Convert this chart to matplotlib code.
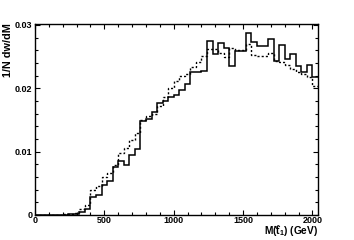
import numpy as np
import matplotlib
matplotlib.use("Agg")
import matplotlib.pyplot as plt
from matplotlib.ticker import MultipleLocator
from matplotlib.lines import Line2D

plt.rcParams['font.family'] = ['Liberation Sans', 'DejaVu Sans']
plt.rcParams['mathtext.fontset'] = 'custom'
plt.rcParams['mathtext.rm'] = 'Liberation Sans:bold'
plt.rcParams['mathtext.bf'] = 'Liberation Sans:bold'
plt.rcParams['mathtext.it'] = 'Liberation Sans:bold'

# bin edges: 40 GeV bins from 0 to 2040
bin_edges = list(range(0, 2041, 40))

solid_vals = [
    0, 0, 0, 0, 0, 0.0, 0.0002, 0.0002, 0.0005, 0.0009,   # 0-400
    0.0028, 0.0031, 0.0047, 0.0053, 0.0076, 0.0085, 0.0079, 0.0094, 0.0104, 0.0148,  # 400-800
    0.0152, 0.0163, 0.0177, 0.0180, 0.0186, 0.0190, 0.0197, 0.0207, 0.0225, 0.0226,  # 800-1200
    0.0227, 0.0274, 0.0254, 0.0272, 0.0263, 0.0235, 0.0259, 0.0259, 0.0288, 0.0273,  # 1200-1600
    0.0267, 0.0267, 0.0278, 0.0243, 0.0269, 0.0247, 0.0254, 0.0235, 0.0226, 0.0236,  # 1600-2000
    0.0218,                                                                            # 2000-2040
]

dotted_vals = [
    0, 0, 0, 0, 0, 0.0001, 0.0002, 0.0003, 0.0009, 0.0016,   # 0-400
    0.0039, 0.0045, 0.0060, 0.0066, 0.0079, 0.0098, 0.0105, 0.0118, 0.0130, 0.0150,  # 400-800
    0.0156, 0.0160, 0.0172, 0.0186, 0.0200, 0.0212, 0.0220, 0.0222, 0.0234, 0.0242,  # 800-1200
    0.0251, 0.0262, 0.0262, 0.0255, 0.0250, 0.0264, 0.0260, 0.0260, 0.0270, 0.0253,  # 1200-1600
    0.0251, 0.0251, 0.0255, 0.0243, 0.0241, 0.0237, 0.0230, 0.0226, 0.0222, 0.0218,  # 1600-2000
    0.0204,                                                                            # 2000-2040
]

x_ticks = [0, 500, 1000, 1500, 2000]
x_tick_labels = ["0", "500", "1000", "1500", "2000"]
y_ticks = [0, 0.01, 0.02, 0.03]
y_tick_labels = ["0", "0.01", "0.02", "0.03"]

W, H = 354, 240
fig = plt.figure(figsize=(W / 100, H / 100), dpi=100)
ax = fig.add_axes([35/W, 1 - 215/H, (318 - 35)/W, (215 - 24)/H])

ax.stairs(solid_vals, bin_edges, color='black', lw=1.1, baseline=None)
ax.stairs(dotted_vals, bin_edges, color='black', lw=1.0, linestyle=(0, (1.5, 1.5)), baseline=None)

ax.set_xlim(0, 2040)
ax.set_ylim(0, 0.03015)

ax.set_xticks(x_ticks)
ax.set_xticklabels(x_tick_labels)
ax.set_yticks(y_ticks)
ax.set_yticklabels(y_tick_labels)
ax.xaxis.set_minor_locator(MultipleLocator(100))
ax.yaxis.set_minor_locator(MultipleLocator(0.002))

ax.tick_params(which='both', direction='in', top=True, right=True, width=0.8, labelsize=6.5)
ax.tick_params(axis='x', pad=1.0)
ax.tick_params(axis='y', pad=2)
ax.tick_params(which='major', length=3.6)
ax.tick_params(which='minor', length=2.0)
for lab in ax.get_xticklabels() + ax.get_yticklabels():
    lab.set_fontweight('bold')

for s in ax.spines.values():
    s.set_linewidth(1.0)

fig.text(8/W, 1 - 23/H, '1/N dw/dM', rotation=90, ha='center', va='top',
         fontsize=7.8, fontweight='bold')

# x-axis title M(t~_1) (GeV); the tilde accent is drawn as a small curve over the t
fs = 7.3
xt = fig.text(318/W, 1 - 238/H, r'M(t$_{1}$) (GeV)', ha='right', va='bottom',
              fontsize=fs, fontweight='bold')
fig.canvas.draw()
rend = fig.canvas.get_renderer()
bb = xt.get_window_extent(rend)
tmp = fig.text(0, 0, 'M(', fontsize=fs, fontweight='bold')
w_pre = tmp.get_window_extent(rend).width
tmp.remove()
tmp = fig.text(0, 0, 't', fontsize=fs, fontweight='bold')
w_t = tmp.get_window_extent(rend).width
tmp.remove()
cx = bb.x0 + w_pre + w_t / 2          # display pixels (origin bottom-left)
cy = H - 226.5
s = np.linspace(-1, 1, 15)
tx = (cx + 2.2 * s) / W
ty = (cy + 0.8 * np.sin(np.pi * s)) / H
fig.add_artist(Line2D(tx, ty, transform=fig.transFigure, color='black', lw=0.8))

fig.savefig('out.png', dpi=100)
